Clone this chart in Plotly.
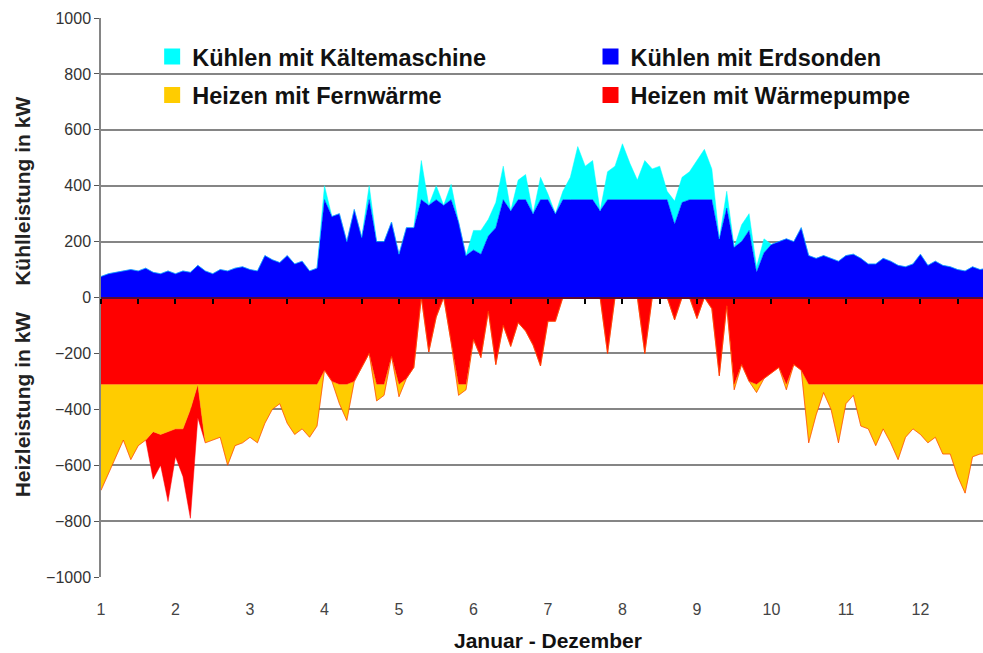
import plotly.graph_objects as go

# Monate (x-Achse), Schrittweite 0.1 Monat
monate = [round(1 + 0.1 * i, 1) for i in range(120)]

# Kühlen mit Erdsonden (kW)
kuehlen_erdsonden = [
    75, 85, 90, 95, 100, 95, 105, 90, 85, 95,
    85, 95, 90, 115, 95, 85, 100, 95, 105, 110,
    100, 95, 150, 135, 125, 150, 120, 130, 95, 105,
    350, 290, 300, 200, 315, 215, 350, 200, 200, 270,
    155, 250, 250, 350, 330, 350, 330, 350, 270, 150,
    170, 155, 220, 250, 350, 310, 350, 350, 300, 350,
    350, 300, 350, 350, 350, 350, 350, 310, 350, 350,
    350, 350, 350, 350, 350, 350, 350, 262, 340, 350,
    350, 350, 350, 210, 320, 180, 200, 240, 90, 160,
    190, 200, 210, 200, 250, 150, 140, 150, 140, 130,
    150, 155, 140, 120, 120, 140, 130, 115, 110, 120,
    155, 115, 130, 115, 110, 100, 95, 110, 100, 105,
]

# Kühlen mit Kältemaschine (kW, oberhalb der Erdsonden)
kuehlen_kaeltemaschine = [
    0, 0, 0, 0, 0, 0, 0, 0, 0, 0,
    0, 0, 0, 0, 0, 0, 0, 0, 0, 0,
    0, 0, 0, 0, 0, 0, 0, 0, 0, 0,
    50, 0, 0, 0, 0, 0, 50, 0, 0, 0,
    0, 0, 0, 140, 0, 50, 0, 55, 0, 0,
    70, 85, 60, 90, 120, 0, 70, 90, 0, 80,
    20, 0, 30, 80, 190, 120, 140, 0, 100, 120,
    200, 130, 70, 140, 110, 120, 30, 83, 90, 100,
    140, 180, 110, 0, 60, 0, 60, 60, 20, 50,
    0, 0, 0, 0, 0, 0, 0, 0, 0, 0,
    0, 0, 0, 0, 0, 0, 0, 0, 0, 0,
    0, 0, 0, 0, 0, 0, 0, 0, 0, 0,
]

# Heizen mit Wärmepumpe (kW, negativ)
heizen_waermepumpe = [
    -310, -310, -310, -310, -310, -310, -310, -310, -310, -310,
    -310, -310, -310, -310, -310, -310, -310, -310, -310, -310,
    -310, -310, -310, -310, -310, -310, -310, -310, -310, -310,
    -260, -300, -310, -310, -300, -250, -200, -310, -310, -210,
    -310, -290, -250, 0, -195, -70, 0, -160, -310, -310,
    -150, -215, -50, -240, -100, -175, -90, -120, -170, -245,
    -85, -85, 0, 0, 0, 0, 0, 0, -200, 0,
    0, 0, 0, -200, 0, 0, 0, -80, 0, 0,
    -75, 0, -40, -280, -30, -310, -240, -300, -310, -290,
    -270, -250, -310, -240, -260, -310, -310, -310, -310, -310,
    -310, -310, -310, -310, -310, -310, -310, -310, -310, -310,
    -310, -310, -310, -310, -310, -310, -310, -310, -310, -310,
]

# Heizen mit Fernwärme (kW, negativ, unterhalb der Wärmepumpe)
heizen_fernwaerme = [
    -380, -320, -260, -200, -270, -220, -200, -170, -180, -170,
    -160, -160, -90, 0, -210, -200, -190, -290, -220, -210,
    -190, -210, -140, -90, -70, -140, -180, -160, -190, -150,
    0, 0, -70, -130, 0, 0, 0, -60, -40, 0,
    -45, 0, 0, 0, 0, 0, 0, 0, -40, -20,
    0, 0, 0, 0, 0, 0, 0, 0, 0, 0,
    0, 0, 0, 0, 0, 0, 0, 0, 0, 0,
    0, 0, 0, 0, 0, 0, 0, 0, 0, 0,
    0, 0, 0, 0, 0, -20, 0, 0, -30, 0,
    0, 0, -20, 0, 0, -210, -110, -30, -90, -210,
    -70, -40, -150, -160, -220, -160, -210, -270, -190, -160,
    -180, -210, -190, -250, -250, -330, -390, -260, -250, -250,
]

# Wärmepumpe Spitzenlast (kW, negativ, unterhalb der Fernwärme)
heizen_waermepumpe_spitze = [
    0, 0, 0, 0, 0, 0, 0, -170, -110, -250,
    -100, -170, -390, -120, 0, 0, 0, 0, 0, 0,
] + [0] * 100

farben = {
    "kaelte": "#00FFFF",
    "erd": "#0000FF",
    "fern": "#FFCC00",
    "wp": "#FF0000",
}

FONT = "Liberation Sans, Arial, sans-serif"

fig = go.Figure()

def area(y, color, group):
    return go.Scatter(
        x=monate, y=y, stackgroup=group, mode="lines",
        line=dict(width=0.5, color=color), fillcolor=color,
        showlegend=False, hoverinfo="skip",
    )

fig.add_trace(area(kuehlen_erdsonden, farben["erd"], "kuehl"))
fig.add_trace(area(kuehlen_kaeltemaschine, farben["kaelte"], "kuehl"))
fig.add_trace(area(heizen_waermepumpe, farben["wp"], "heiz"))
fig.add_trace(area(heizen_fernwaerme, farben["fern"], "heiz"))
fig.add_trace(area(heizen_waermepumpe_spitze, farben["wp"], "heiz"))

# Legend entries
legend_items = [
    ("Kühlen mit Kältemaschine", farben["kaelte"], "legend"),
    ("Heizen mit Fernwärme", farben["fern"], "legend"),
    ("Kühlen mit Erdsonden", farben["erd"], "legend2"),
    ("Heizen mit Wärmepumpe", farben["wp"], "legend2"),
]
for i, (name, color, lg) in enumerate(legend_items):
    fig.add_trace(go.Scatter(
        x=[None], y=[None], mode="markers", name=name,
        marker=dict(symbol="square", size=16, color=color),
        legend=lg, legendgroup=f"g{i}", showlegend=True,
    ))

# half-month ticks along the zero line
fig.add_trace(go.Scatter(x=[None], y=[None], xaxis="x2", showlegend=False))

legend_common = dict(
    bgcolor="rgba(0,0,0,0)", borderwidth=0,
    font=dict(family=FONT, size=23.5, color="#111", weight="bold"),
    traceorder="grouped", tracegroupgap=5, yanchor="top", xanchor="left",
    itemsizing="trace",
)

fig.update_layout(
    width=983, height=653,
    margin=dict(l=101, r=0, t=18, b=76, autoexpand=False),
    paper_bgcolor="white", plot_bgcolor="white",
    showlegend=True,
    legend=dict(x=0.058, y=0.97, **legend_common),
    legend2=dict(x=0.555, y=0.97, **legend_common),
    xaxis=dict(
        range=[1, 12.84], tickvals=list(range(1, 13)), automargin=False,
        showgrid=False, zeroline=False, showline=False,
        ticks="outside", ticklen=18, tickcolor="rgba(0,0,0,0)",
        tickfont=dict(family=FONT, size=16, color="#444"),
    ),
    xaxis2=dict(
        overlaying="x", matches="x", anchor="free", position=0.5,
        side="bottom", showgrid=False, zeroline=False, automargin=False,
        showline=True, linecolor="#5a0a30", linewidth=2,
        ticks="outside", ticklen=5, tickcolor="#000", tickwidth=1.5,
        tick0=1, dtick=0.5, showticklabels=False, layer="above traces",
    ),
    yaxis=dict(
        range=[-1000, 1000], dtick=200, tick0=0, automargin=False,
        showgrid=True, gridcolor="#858585", gridwidth=2,
        zeroline=False, showline=True, linecolor="#858585", linewidth=1.5,
        ticks="outside", ticklen=5, tickcolor="#555",
        tickfont=dict(family=FONT, size=16, color="#333"),
    ),
    shapes=[dict(
        type="rect", xref="paper", x0=0.002, x1=1, yref="y", y0=700, y1=900,
        fillcolor="white", line=dict(width=0), layer="between",
    )],
    annotations=[
        dict(text="Januar - Dezember", xref="paper", yref="paper",
             x=0.507, y=-0.113, xanchor="center", yanchor="middle",
             showarrow=False,
             font=dict(family=FONT, size=21, color="#111", weight="bold")),
        dict(text="Kühlleistung in kW", xref="paper", yref="paper",
             x=-0.089, y=0.69, xanchor="center", yanchor="middle",
             textangle=-90, showarrow=False,
             font=dict(family=FONT, size=21, color="#222", weight="bold")),
        dict(text="Heizleistung in kW", xref="paper", yref="paper",
             x=-0.089, y=0.308, xanchor="center", yanchor="middle",
             textangle=-90, showarrow=False,
             font=dict(family=FONT, size=21, color="#222", weight="bold")),
    ],
)

fig.write_html(
    "out.html",
    config={"displayModeBar": False},
    post_script="document.body.style.margin='0';document.body.style.overflow='hidden';",
)
